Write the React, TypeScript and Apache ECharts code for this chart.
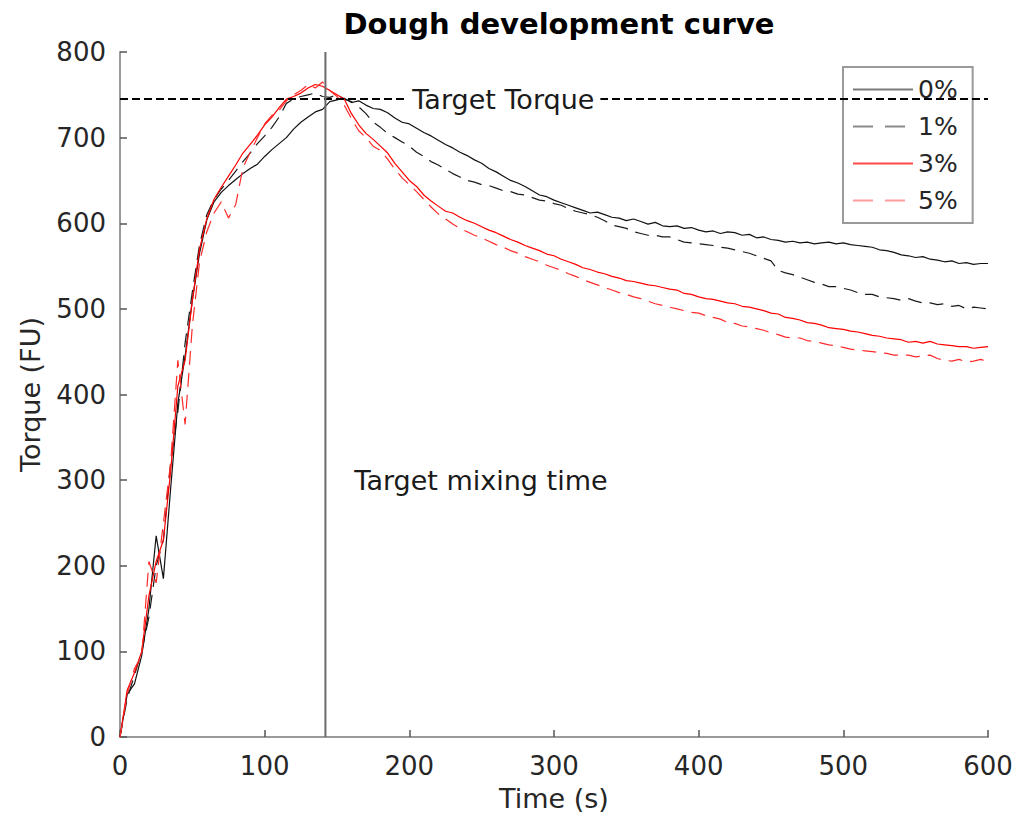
import React, { useEffect, useRef } from "react";
import * as echarts from "echarts";

// Sample times (s)
const times = [
  0, 5, 10, 15, 20, 25, 30, 35, 40, 45,
  50, 55, 60, 65, 70, 75, 80, 85, 90, 95,
  100, 105, 110, 115, 120, 125, 130, 135, 140, 145,
  150, 155, 160, 165, 170, 175, 180, 185, 190, 195,
  200, 205, 210, 215, 220, 225, 230, 235, 240, 245,
  250, 255, 260, 265, 270, 275, 280, 285, 290, 295,
  300, 305, 310, 315, 320, 325, 330, 335, 340, 345,
  350, 355, 360, 365, 370, 375, 380, 385, 390, 395,
  400, 405, 410, 415, 420, 425, 430, 435, 440, 445,
  450, 455, 460, 465, 470, 475, 480, 485, 490, 495,
  500, 505, 510, 515, 520, 525, 530, 535, 540, 545,
  550, 555, 560, 565, 570, 575, 580, 585, 590, 595,
  600,
];

// Torque (FU) for each addition level
const torque0 = [
  0, 50, 62, 95, 150, 235, 185, 290, 390, 445,
  510, 565, 604, 625, 636, 644, 651, 658, 664, 669,
  678, 686, 693, 700, 710, 718, 724, 730, 733, 742,
  744, 746, 741, 743, 738, 734, 733, 729, 723, 718,
  716, 711, 706, 702, 697, 692, 688, 683, 679, 674,
  670, 664, 660, 655, 650, 647, 643, 638, 633, 631,
  627, 624, 621, 618, 615, 612, 613, 610, 607, 606,
  603, 605, 602, 599, 601, 597, 596, 597, 594, 595,
  592, 590, 591, 588, 590, 589, 586, 587, 583, 584,
  581, 580, 578, 579, 577, 578, 576, 577, 578, 576,
  577, 575, 574, 573, 572, 569, 568, 566, 563, 562,
  560, 561, 558, 557, 555, 556, 553, 554, 552, 553,
  553,
];

const torque1 = [
  0, 45, 72, 100, 140, 200, 230, 320, 380, 460,
  520, 575, 610, 628, 640, 650, 661, 672, 682, 693,
  702, 712, 724, 740, 745, 748, 750, 752, 748, 747,
  750, 745, 742, 736, 728, 718, 712, 705, 700, 695,
  690, 683, 678, 672, 668, 663, 658, 654, 650, 648,
  645, 644, 641, 638, 637, 634, 633, 630, 627, 626,
  623, 621, 617, 614, 612, 610, 607, 603, 598, 596,
  594, 590, 588, 586, 586, 584, 584, 581, 578, 577,
  576, 575, 574, 572, 571, 569, 567, 565, 562, 559,
  556, 545, 542, 540, 537, 534, 531, 529, 526, 526,
  524, 522, 519, 517, 517, 514, 513, 512, 510, 512,
  509, 507, 507, 505, 506, 503, 504, 500, 502, 501,
  500,
];

const torque3 = [
  0, 55, 75, 100, 165, 205, 230, 310, 410, 440,
  510, 570, 605, 628, 642, 655, 668, 682, 692, 703,
  715, 724, 735, 745, 748, 752, 758, 762, 760, 755,
  750, 745, 728, 715, 705, 698, 690, 682, 670, 660,
  650, 643, 633, 626, 620, 614, 612, 607, 603, 600,
  596, 592, 589, 585, 581, 578, 574, 571, 568, 564,
  562, 558, 555, 552, 548, 546, 543, 541, 538, 536,
  533, 532, 530, 528, 527, 525, 523, 522, 518, 517,
  514, 512, 511, 509, 507, 506, 503, 502, 500, 498,
  495, 494, 490, 489, 487, 484, 483, 481, 478, 477,
  476, 474, 473, 471, 469, 468, 466, 465, 464, 461,
  462, 460, 462, 459, 458, 457, 456, 456, 454, 455,
  456,
];

const torque5 = [
  0, 50, 80, 95, 205, 180, 250, 320, 440, 365,
  480, 555, 590, 612, 625, 606, 622, 665, 683, 700,
  716, 726, 732, 743, 750, 755, 762, 758, 765, 755,
  748, 738, 722, 708, 700, 690, 685, 675, 663, 653,
  645, 637, 628, 619, 611, 605, 599, 594, 590, 586,
  583, 579, 575, 572, 568, 565, 561, 558, 555, 551,
  548, 545, 541, 538, 534, 531, 528, 525, 522, 519,
  517, 514, 512, 509, 506, 504, 502, 500, 498, 496,
  495, 492, 490, 488, 484, 483, 480, 479, 477, 475,
  472, 470, 467, 466, 466, 463, 462, 460, 458, 457,
  455, 453, 452, 451, 450, 449, 448, 446, 446, 446,
  444, 445, 446, 442, 440, 439, 441, 438, 439, 441,
  438,
];

const seriesNames = ["0%", "1%", "3%", "5%"];

// Reference markers
const TARGET_TORQUE = 745;
const MIXING_TIME = 142;
const TORQUE_LABEL_AT: [number, number] = [265, TARGET_TORQUE];
const MIXING_LABEL_AT: [number, number] = [162, 300];

const FONT = '"DejaVu Sans", "Liberation Sans", sans-serif';
const TEXT_COLOR = "#262626";
const AXIS_COLOR = "#9a9a9a";

export default function App() {
  const ref = useRef<HTMLDivElement>(null);

  useEffect(() => {
    if (!ref.current) return;
    const chart = echarts.init(ref.current, null, { renderer: "svg" });
    const pairs = (vals: number[]) => times.map((t, i) => [t, vals[i]]);

    const axisCommon = {
      axisLine: { show: true, onZero: false, lineStyle: { color: AXIS_COLOR, width: 2 } },
      axisTick: { show: true, inside: true, length: 7, lineStyle: { color: "#555", width: 1.5 } },
      splitLine: { show: false },
      nameTextStyle: { fontFamily: FONT, fontSize: 27, color: TEXT_COLOR },
    };

    chart.setOption({
      animation: false,
      backgroundColor: "#ffffff",
      title: {
        text: "Dough development curve",
        left: 554,
        top: 4,
        textAlign: "center",
        textStyle: { fontFamily: FONT, fontSize: 29, fontWeight: "bold", color: "#000" },
      },
      grid: { left: 120, right: 31, top: 52, bottom: 97 },
      legend: {
        orient: "vertical",
        left: 843,
        top: 67,
        padding: [10, 15, 10, 9],
        itemWidth: 60,
        itemHeight: 14,
        itemGap: 12,
        backgroundColor: "#fff",
        borderColor: AXIS_COLOR,
        borderWidth: 2,
        itemStyle: { opacity: 0 },
        textStyle: { fontFamily: FONT, fontSize: 25, color: TEXT_COLOR },
        data: [
          { name: seriesNames[0], lineStyle: { color: "#7a7a7a", width: 2, type: "solid" } },
          { name: seriesNames[1], lineStyle: { color: "#8a8a8a", width: 2, type: [20, 12] } },
          { name: seriesNames[2], lineStyle: { color: "#ff4a4a", width: 2, type: "solid" } },
          { name: seriesNames[3], lineStyle: { color: "#ff9c9c", width: 2, type: [20, 12] } },
        ],
      },
      xAxis: {
        type: "value",
        min: 0,
        max: 600,
        interval: 100,
        name: "Time (s)",
        nameLocation: "middle",
        nameGap: 48,
        axisLabel: { fontFamily: FONT, fontSize: 26, color: TEXT_COLOR, margin: 16 },
        ...axisCommon,
      },
      yAxis: {
        type: "value",
        min: 0,
        max: 800,
        interval: 100,
        name: "Torque (FU)",
        nameLocation: "middle",
        nameGap: 76,
        nameRotate: 90,
        axisLabel: { fontFamily: FONT, fontSize: 26, color: TEXT_COLOR, margin: 14 },
        ...axisCommon,
      },
      series: [
        {
          name: seriesNames[0],
          type: "line",
          symbol: "none",
          data: pairs(torque0),
          lineStyle: { color: "#111", width: 1.2 },
          itemStyle: { color: "#111" },
          z: 3,
        },
        {
          name: seriesNames[1],
          type: "line",
          symbol: "none",
          data: pairs(torque1),
          lineStyle: { color: "#1a1a1a", width: 1.2, type: [14, 8] },
          itemStyle: { color: "#1a1a1a" },
          z: 3,
        },
        {
          name: seriesNames[2],
          type: "line",
          symbol: "none",
          data: pairs(torque3),
          lineStyle: { color: "#ff0000", width: 1.2 },
          itemStyle: { color: "#ff0000" },
          z: 3,
        },
        {
          name: seriesNames[3],
          type: "line",
          symbol: "none",
          data: pairs(torque5),
          lineStyle: { color: "#ff2a2a", width: 1.2, type: [14, 8] },
          itemStyle: { color: "#ff2a2a" },
          z: 3,
        },
        {
          name: "target-torque",
          type: "line",
          symbol: "none",
          silent: true,
          data: [
            [0, TARGET_TORQUE],
            [600, TARGET_TORQUE],
          ],
          lineStyle: { color: "#000", width: 2, type: [8, 4] },
          z: 4,
        },
        {
          name: "mixing-time",
          type: "line",
          symbol: "none",
          silent: true,
          data: [
            [MIXING_TIME, 0],
            [MIXING_TIME, 800],
          ],
          lineStyle: { color: "#6a6a6a", width: 2 },
          z: 4,
        },
      ],
    });

    // Text annotations placed through the grid's own coordinate conversion
    const torquePos = chart.convertToPixel({ gridIndex: 0 }, TORQUE_LABEL_AT) as number[];
    const mixingPos = chart.convertToPixel({ gridIndex: 0 }, MIXING_LABEL_AT) as number[];
    chart.setOption({
      graphic: [
        {
          type: "text",
          x: torquePos[0],
          y: torquePos[1],
          z: 100,
          silent: true,
          style: {
            text: "Target Torque",
            align: "center",
            verticalAlign: "middle",
            fill: "#1a1a1a",
            font: `27px ${FONT}`,
            backgroundColor: "#ffffff",
            padding: [3, 6],
          },
        },
        {
          type: "text",
          x: mixingPos[0],
          y: mixingPos[1],
          z: 100,
          silent: true,
          style: {
            text: "Target mixing time",
            align: "left",
            verticalAlign: "middle",
            fill: "#1a1a1a",
            font: `27px ${FONT}`,
          },
        },
      ],
    });

    return () => chart.dispose();
  }, []);

  return (
    <div
      ref={ref}
      style={{ position: "absolute", left: 0, top: 0, width: 1019, height: 834 }}
    />
  );
}
